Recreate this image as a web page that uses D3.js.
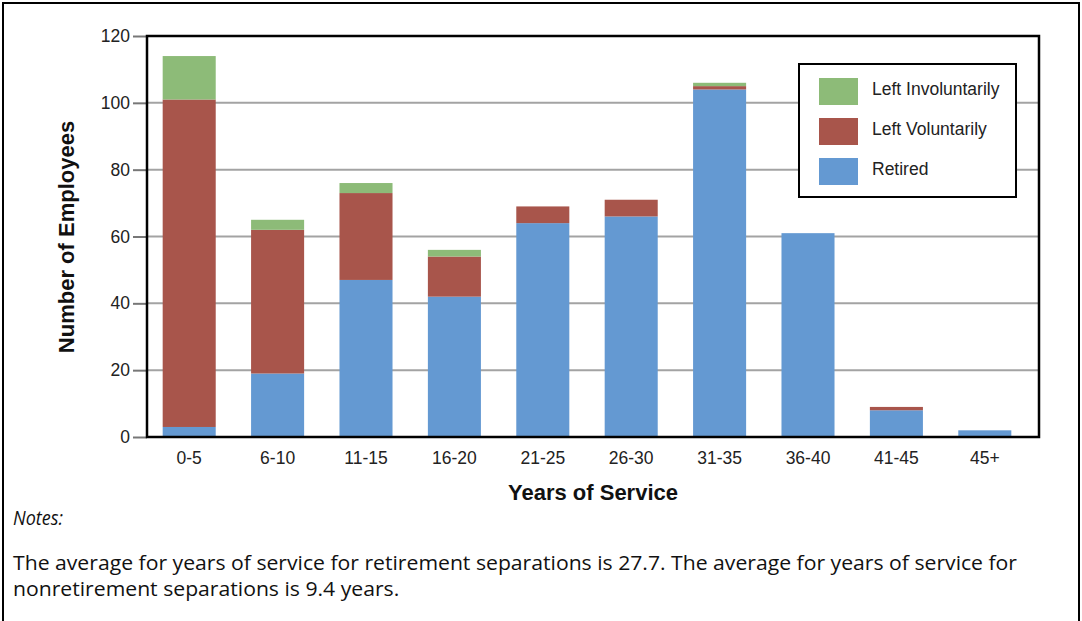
<!DOCTYPE html>
<html>
<head>
<meta charset="utf-8">
<script src="https://cdn.jsdelivr.net/npm/d3@7/dist/d3.min.js"></script>
<style>
  html, body { margin: 0; padding: 0; background: #fff; }
  svg { display: block; }
</style>
</head>
<body>
<svg id="chart" width="1082" height="621"></svg>
<script>
const categories = ["0-5", "6-10", "11-15", "16-20", "21-25", "26-30", "31-35", "36-40", "41-45", "45+"];
const retired     = [3, 19, 47, 42, 64, 66, 104, 61, 8, 2];
const voluntary   = [98, 43, 26, 12, 5, 5, 1, 0, 1, 0];
const involuntary = [13, 3, 3, 2, 0, 0, 1, 0, 0, 0];
const seriesNames = ["Retired", "Left Voluntarily", "Left Involuntarily"];
const seriesColors = ["#6499d2", "#a8554b", "#8dbb78"];
const yTicks = [0, 20, 40, 60, 80, 100, 120];
const notesLines = [
  "The average for years of service for retirement separations is 27.7.  The average for years of service for",
  "nonretirement separations is 9.4 years."
];

const svg = d3.select("#chart");
const L = 147, R = 1039, T = 36, B = 437;

const rows = categories.map((c, i) => ({
  cat: c, "Retired": retired[i], "Left Voluntarily": voluntary[i], "Left Involuntarily": involuntary[i]
}));
const stack = d3.stack().keys(seriesNames)(rows);

const x = d3.scaleBand().domain(categories).range([145, 1029]).paddingInner(0.4).paddingOuter(0.2);
const y = d3.scaleLinear().domain([0, 120]).range([B, T]);

// outer border
svg.append("rect").attr("x", 3).attr("y", 3).attr("width", 1076).attr("height", 640)
  .attr("fill", "none").attr("stroke", "#000").attr("stroke-width", 2);

// gridlines
svg.append("g").selectAll("line").data(yTicks.filter(d => d > 0 && d < 120)).join("line")
  .attr("x1", L).attr("x2", R).attr("y1", d => y(d)).attr("y2", d => y(d))
  .attr("stroke", "#a3a3a3").attr("stroke-width", 2);

// bars
svg.append("g").selectAll("g").data(stack).join("g")
  .attr("fill", (d, i) => seriesColors[i])
  .selectAll("rect").data(d => d).join("rect")
  .attr("x", d => x(d.data.cat))
  .attr("width", x.bandwidth())
  .attr("y", d => y(d[1]))
  .attr("height", d => y(d[0]) - y(d[1]));

// y axis
const yAxis = d3.axisLeft(y).tickValues(yTicks).tickSize(14).tickPadding(3);
const gy = svg.append("g").attr("transform", `translate(${L},0)`).call(yAxis);
gy.select(".domain").remove();
gy.selectAll(".tick line").attr("stroke", "#777").attr("stroke-width", 2);
gy.selectAll(".tick text").attr("font-family", "Liberation Sans, Arial, sans-serif")
  .attr("font-size", 17.5).attr("fill", "#222");

// x axis
const xAxis = d3.axisBottom(x).tickSize(0).tickPadding(15);
const gx = svg.append("g").attr("transform", `translate(0,${B})`).call(xAxis);
gx.select(".domain").remove();
gx.selectAll(".tick text").attr("font-family", "Liberation Sans, Arial, sans-serif")
  .attr("font-size", 17.5).attr("fill", "#222");

// plot frame
svg.append("rect").attr("x", L).attr("y", T).attr("width", R - L).attr("height", B - T)
  .attr("fill", "none").attr("stroke", "#000").attr("stroke-width", 2.5);

// axis titles
svg.append("text").attr("x", 593).attr("y", 500).attr("text-anchor", "middle")
  .attr("font-family", "Liberation Sans, Arial, sans-serif").attr("font-weight", "bold")
  .attr("font-size", 22).attr("fill", "#111").text("Years of Service");
svg.append("text").attr("transform", "translate(74,237) rotate(-90)").attr("text-anchor", "middle")
  .attr("font-family", "Liberation Sans, Arial, sans-serif").attr("font-weight", "bold")
  .attr("font-size", 22).attr("fill", "#111").text("Number of Employees");

// legend
const lg = svg.append("g");
lg.append("rect").attr("x", 799).attr("y", 64).attr("width", 217).attr("height", 133)
  .attr("fill", "#fff").attr("stroke", "#000").attr("stroke-width", 2);
const legendOrder = [2, 1, 0];
legendOrder.forEach((si, k) => {
  lg.append("rect").attr("x", 819).attr("y", 78 + k * 40).attr("width", 39).attr("height", 27)
    .attr("fill", seriesColors[si]);
  lg.append("text").attr("x", 872).attr("y", 95 + k * 40)
    .attr("font-family", "Liberation Sans, Arial, sans-serif").attr("font-size", 17.5)
    .attr("fill", "#222").text(seriesNames[si]);
});

// notes
svg.append("text").attr("x", 13).attr("y", 525)
  .attr("font-family", "Open Sans, Noto Sans, sans-serif").attr("font-style", "italic")
  .attr("font-size", 20).attr("fill", "#111")
  .attr("textLength", 50).attr("lengthAdjust", "spacingAndGlyphs").text("Notes:");
const n1 = svg.append("text").attr("x", 13).attr("y", 570)
  .attr("font-family", "Open Sans, Noto Sans, sans-serif").attr("font-size", 19.5).attr("fill", "#111")
  .text(notesLines[0]);
const n2 = svg.append("text").attr("x", 13).attr("y", 596)
  .attr("font-family", "Open Sans, Noto Sans, sans-serif").attr("font-size", 19.5).attr("fill", "#111")
  .text(notesLines[1]);
const w1 = n1.node().getComputedTextLength();
const w2 = n2.node().getComputedTextLength();
const ratio = 1004 / w1;
n1.attr("textLength", 1004).attr("lengthAdjust", "spacingAndGlyphs");
n2.attr("textLength", w2 * ratio).attr("lengthAdjust", "spacingAndGlyphs");
</script>
</body>
</html>
